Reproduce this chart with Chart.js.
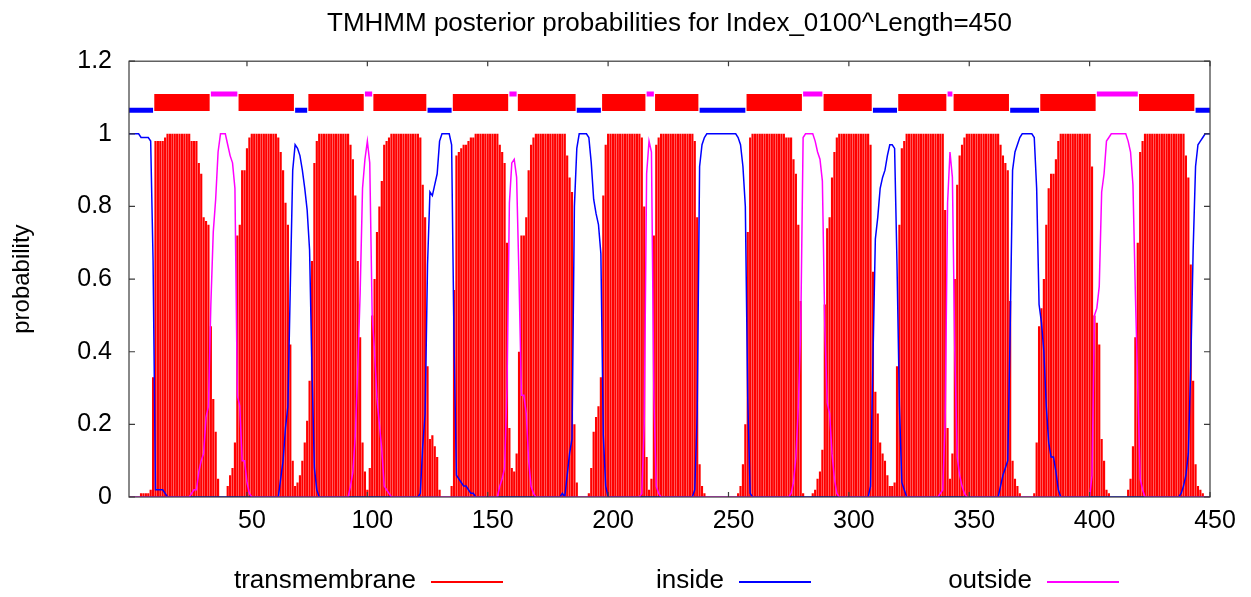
<!DOCTYPE html>
<html>
<head>
<meta charset="utf-8">
<script src="https://cdn.jsdelivr.net/npm/chart.js@4.4.1/dist/chart.umd.min.js"></script>
<style>
  body { margin: 0; background: #fff; }
  #wrap { width: 1251px; height: 597px; }
</style>
</head>
<body>
<div id="wrap"><canvas id="tmhmm"></canvas></div>
<script>
const chartTitle = 'TMHMM posterior probabilities for Index_0100^Length=450';
const seqLength = 450;
const xTicks = [50, 100, 150, 200, 250, 300, 350, 400, 450];
const yTicks = [0, 0.2, 0.4, 0.6, 0.8, 1, 1.2];

// posterior probability per residue (1..450)
const tmProb = [
  0,0,0,0,0,0.01,0.01,0.01,0.01,0.02,
  0.33,0.98,0.98,0.98,0.98,0.99,1,1,1,1,
  1,1,1,1,1,1,0.98,0.98,0.98,0.92,
  0.89,0.77,0.76,0.75,0.47,0.27,0.18,0.05,0,0,
  0,0.03,0.06,0.08,0.15,0.72,0.75,0.9,0.9,0.96,
  0.99,1,1,1,1,1,1,1,1,1,
  1,1,0.99,0.95,0.9,0.81,0.75,0.42,0.1,0.03,
  0.04,0.06,0.1,0.15,0.21,0.32,0.65,0.92,0.98,1,
  1,1,1,1,1,1,1,1,1,1,
  1,1,0.97,0.93,0.83,0.65,0.44,0.15,0.07,0.02,
  0.08,0.5,0.6,0.73,0.8,0.87,0.97,0.98,0.99,1,
  1,1,1,1,1,1,1,1,1,1,
  1,0.99,0.86,0.77,0.36,0.16,0.17,0.14,0.11,0.02,
  0,0,0,0,0.03,0.57,0.94,0.95,0.96,0.97,
  0.97,0.98,0.99,0.99,1,1,1,1,1,1,
  1,1,1,1,0.97,0.95,0.92,0.7,0.19,0.08,
  0.07,0.12,0.4,0.72,0.72,0.77,0.9,0.97,0.99,1,
  1,1,1,1,1,1,1,1,1,1,
  1,1,0.94,0.88,0.84,0.2,0.04,0,0,0,
  0,0.01,0.08,0.18,0.22,0.25,0.33,0.83,0.97,1,
  1,1,1,1,1,1,1,1,1,1,
  1,1,1,0.99,0.8,0.11,0.02,0.05,0.72,0.97,
  0.99,1,1,1,1,1,1,1,1,1,
  1,1,1,1,1,0.98,0.77,0.09,0.03,0.01,
  0,0,0,0,0,0,0,0,0,0,
  0,0,0,0.01,0.03,0.09,0.2,0.73,0.99,1,
  1,1,1,1,1,1,1,1,1,1,
  1,1,1,0.99,0.99,0.99,0.93,0.89,0.75,0.54,
  0.01,0,0,0,0.01,0.02,0.05,0.07,0.13,0.53,
  0.74,0.77,0.88,0.95,0.99,1,1,1,1,1,
  1,1,1,1,1,1,1,1,0.97,0.62,
  0.29,0.23,0.15,0.12,0.1,0.06,0.03,0.03,0.04,0.36,
  0.75,0.96,0.98,1,1,1,1,1,1,1,
  1,1,1,1,1,1,1,1,1,0.79,
  0.19,0.05,0.12,0.6,0.86,0.94,0.97,0.99,1,1,
  1,1,1,1,1,1,1,1,1,1,
  1,1,0.97,0.94,0.92,0.9,0.54,0.1,0.05,0.03,
  0.01,0,0,0,0,0,0.01,0.15,0.47,0.52,
  0.6,0.75,0.85,0.89,0.89,0.93,0.98,1,1,1,
  1,1,1,1,1,1,1,1,1,1,
  0.91,0.5,0.48,0.42,0.16,0.1,0.02,0.01,0,0,
  0,0,0,0,0,0.02,0.05,0.14,0.44,0.7,
  0.95,0.98,1,1,1,1,1,1,1,1,
  1,1,1,1,1,1,1,1,1,0.94,
  0.88,0.64,0.32,0.09,0.03,0.02,0.01,0,0,0
];

const insideProb = [
  1,1,1,1,1,0.99,0.99,0.99,0.99,0.98,
  0.65,0.02,0.02,0.02,0.02,0.01,0,0,0,0,
  0,0,0,0,0,0,0,0,0,0,
  0,0,0,0,0,0,0,0,0,0,
  0,0,0,0,0,0,0,0,0,0,
  0,0,0,0,0,0,0,0,0,0,
  0,0,0,0.05,0.1,0.19,0.25,0.58,0.9,0.97,
  0.96,0.94,0.9,0.85,0.79,0.68,0.35,0.08,0.02,0,
  0,0,0,0,0,0,0,0,0,0,
  0,0,0,0,0,0,0,0,0,0,
  0,0,0,0,0,0,0,0,0,0,
  0,0,0,0,0,0,0,0,0,0,
  0,0.01,0.14,0.23,0.64,0.84,0.83,0.86,0.89,0.98,
  1,1,1,1,0.97,0.43,0.06,0.05,0.04,0.03,
  0.03,0.02,0.01,0.01,0,0,0,0,0,0,
  0,0,0,0,0,0,0,0,0,0,
  0,0,0,0,0,0,0,0,0,0,
  0,0,0,0,0,0,0,0,0,0,
  0.01,0,0.06,0.12,0.16,0.8,0.96,1,1,1,
  1,0.99,0.92,0.82,0.78,0.75,0.67,0.17,0.03,0,
  0,0,0,0,0,0,0,0,0,0,
  0,0,0,0,0,0,0,0,0,0,
  0,0,0,0,0,0,0,0,0,0,
  0,0,0,0,0,0.02,0.23,0.91,0.97,0.99,
  1,1,1,1,1,1,1,1,1,1,
  1,1,1,0.99,0.97,0.91,0.8,0.27,0.01,0,
  0,0,0,0,0,0,0,0,0,0,
  0,0,0,0,0,0,0,0,0,0,
  0,0,0,0,0,0,0,0,0,0,
  0,0,0,0,0,0,0,0,0,0,
  0,0,0,0,0,0,0,0,0.03,0.38,
  0.71,0.77,0.85,0.88,0.9,0.94,0.97,0.97,0.96,0.64,
  0.25,0.04,0.02,0,0,0,0,0,0,0,
  0,0,0,0,0,0,0,0,0,0,
  0,0,0,0,0,0,0,0,0,0,
  0,0,0,0,0,0,0,0,0,0,
  0,0,0.03,0.06,0.08,0.1,0.46,0.9,0.95,0.97,
  0.99,1,1,1,1,1,0.99,0.85,0.53,0.48,
  0.4,0.25,0.15,0.11,0.11,0.07,0.02,0,0,0,
  0,0,0,0,0,0,0,0,0,0,
  0,0,0,0,0,0,0,0,0,0,
  0,0,0,0,0,0,0,0,0,0,
  0,0,0,0,0,0,0,0,0,0,
  0,0,0,0,0,0,0,0.01,0.03,0.06,
  0.12,0.36,0.68,0.91,0.97,0.98,0.99,1,1,1
];

const outsideProb = [
  0,0,0,0,0,0,0,0,0,0,
  0,0,0,0,0,0,0,0,0,0,
  0,0,0,0,0,0,0.01,0.02,0.02,0.07,
  0.1,0.12,0.22,0.25,0.53,0.73,0.82,0.95,1,1,
  1,0.97,0.94,0.92,0.85,0.28,0.25,0.1,0.1,0.04,
  0.01,0,0,0,0,0,0,0,0,0,
  0,0,0,0,0,0,0,0,0,0,
  0,0,0,0,0,0,0,0,0,0,
  0,0,0,0,0,0,0,0,0,0,
  0,0,0.03,0.07,0.17,0.35,0.56,0.85,0.93,0.98,
  0.92,0.5,0.4,0.27,0.2,0.13,0.03,0.02,0.01,0,
  0,0,0,0,0,0,0,0,0,0,
  0,0,0,0,0,0,0,0,0,0,
  0,0,0,0,0,0,0,0,0,0,
  0,0,0,0,0,0,0,0,0,0,
  0,0,0,0,0.03,0.05,0.08,0.3,0.81,0.92,
  0.93,0.88,0.6,0.28,0.28,0.23,0.1,0.03,0.01,0,
  0,0,0,0,0,0,0,0,0,0,
  0,0,0,0,0,0,0,0,0,0,
  0,0,0,0,0,0,0,0,0,0,
  0,0,0,0,0,0,0,0,0,0,
  0,0,0,0.01,0.2,0.89,0.98,0.95,0.28,0.03,
  0.01,0,0,0,0,0,0,0,0,0,
  0,0,0,0,0,0,0,0,0,0,
  0,0,0,0,0,0,0,0,0,0,
  0,0,0,0,0,0,0,0,0,0,
  0,0,0,0,0,0,0,0,0,0,
  0,0,0,0,0,0.01,0.04,0.11,0.25,0.46,
  0.99,1,1,1,1,0.98,0.95,0.93,0.87,0.47,
  0.26,0.23,0.12,0.05,0.01,0,0,0,0,0,
  0,0,0,0,0,0,0,0,0,0,
  0,0,0,0,0,0,0,0,0,0,
  0,0,0,0,0,0,0,0,0,0,
  0,0,0,0,0,0,0,0.01,0.02,0.21,
  0.81,0.95,0.88,0.4,0.11,0.06,0.03,0.01,0,0,
  0,0,0,0,0,0,0,0,0,0,
  0,0,0,0,0,0,0,0,0,0,
  0,0,0,0,0,0,0,0,0,0,
  0,0,0,0,0,0,0,0,0,0,
  0,0,0,0,0,0,0,0,0,0,
  0.06,0.5,0.52,0.58,0.84,0.89,0.98,0.99,1,1,
  1,1,1,1,1,0.98,0.95,0.86,0.56,0.3,
  0.05,0.02,0,0,0,0,0,0,0,0,
  0,0,0,0,0,0,0,0,0,0,
  0,0,0,0,0,0,0,0,0,0
];

// predicted topology (residue ranges)
const insideSegs = [[1,11],[70,75],[125,135],[187,197],[238,257],[310,320],[367,379],[444,450]];
const tmSegs = [[12,34],[47,69],[76,98],[103,124],[136,158],[163,186],[198,215],[220,237],[258,280],[290,309],[321,340],[344,366],[380,402],[421,443]];
const outsideSegs = [[35,46],[99,102],[159,162],[216,219],[281,289],[341,343],[403,420]];

const RED = '#ff0000';
const BLUE = '#0000ff';
const MAGENTA = '#ff00ff';

function toPoints(values) {
  return values.map((v, i) => ({ x: i + 1, y: v }));
}

function segPoints(segs, level, pad) {
  let pts = [];
  segs.forEach(s => {
    pts.push({ x: s[0] - pad, y: level });
    pts.push({ x: s[1] + pad, y: level });
    pts.push({ x: s[1] + pad + 0.01, y: null });
  });
  return pts;
}

// gnuplot style frame with inward ticks, and the key under the plot
const gnuFrame = {
  id: 'gnuFrame',
  afterDatasetsDraw(chart) {
    const ctx = chart.ctx;
    const a = chart.chartArea;
    const x = chart.scales.x;
    const y = chart.scales.y;
    ctx.save();
    ctx.strokeStyle = '#3a3a3a';
    ctx.lineWidth = 1.2;
    ctx.strokeRect(a.left, a.top, a.right - a.left, a.bottom - a.top);
    ctx.beginPath();
    xTicks.forEach(v => {
      let px = x.getPixelForValue(v);
      ctx.moveTo(px, a.bottom); ctx.lineTo(px, a.bottom - 5);
      ctx.moveTo(px, a.top); ctx.lineTo(px, a.top + 5);
    });
    yTicks.forEach(v => {
      let py = y.getPixelForValue(v);
      ctx.moveTo(a.left, py); ctx.lineTo(a.left + 6, py);
      ctx.moveTo(a.right, py); ctx.lineTo(a.right - 6, py);
    });
    ctx.stroke();
    ctx.restore();
  },
  afterDraw(chart) {
    const ctx = chart.ctx;
    const items = chart.data.datasets.filter(d => d.inKey);
    ctx.save();
    ctx.font = '26px "Liberation Sans", Arial, sans-serif';
    ctx.fillStyle = '#000';
    ctx.textAlign = 'right';
    ctx.textBaseline = 'middle';
    items.forEach((d, i) => {
      let right = 416 + 308 * i;
      ctx.fillText(d.label, right, 581);
      ctx.strokeStyle = d.borderColor || d.backgroundColor;
      ctx.lineWidth = 2;
      ctx.beginPath();
      ctx.moveTo(right + 15, 582);
      ctx.lineTo(right + 87, 582);
      ctx.stroke();
    });
    ctx.restore();
  }
};

Chart.defaults.font.family = '"Liberation Sans", Arial, sans-serif';
Chart.defaults.color = '#000';

let tmChart = new Chart(document.getElementById('tmhmm'), {
  type: 'line',
  data: {
    datasets: [
      {
        type: 'bar',
        label: 'transmembrane',
        inKey: true,
        data: toPoints(tmProb),
        backgroundColor: RED,
        borderColor: RED,
        borderWidth: 0,
        barPercentage: 0.9,
        categoryPercentage: 1,
        grouped: false,
        order: 3
      },
      {
        label: 'inside',
        inKey: true,
        data: toPoints(insideProb),
        borderColor: BLUE,
        borderWidth: 1.5,
        pointRadius: 0,
        order: 1
      },
      {
        label: 'outside',
        inKey: true,
        data: toPoints(outsideProb),
        borderColor: MAGENTA,
        borderWidth: 1.5,
        pointRadius: 0,
        order: 0
      },
      {
        label: 'outside topology',
        data: segPoints(outsideSegs, 1.11, 0),
        borderColor: MAGENTA,
        borderWidth: 5,
        borderCapStyle: 'butt',
        pointRadius: 0,
        order: 2
      },
      {
        label: 'inside topology',
        data: segPoints(insideSegs, 1.065, 0),
        borderColor: BLUE,
        borderWidth: 5,
        borderCapStyle: 'butt',
        pointRadius: 0,
        order: 2
      },
      {
        label: 'tm topology',
        data: segPoints(tmSegs, 1.0865, 0.5),
        borderColor: RED,
        borderWidth: 17,
        borderCapStyle: 'butt',
        pointRadius: 0,
        order: 2
      }
    ]
  },
  options: {
    responsive: true,
    maintainAspectRatio: false,
    animation: false,
    layout: { padding: { left: 0, right: 41, top: 0, bottom: 50 } },
    plugins: {
      legend: { display: false },
      tooltip: { enabled: false },
      title: {
        display: true,
        fullSize: false,
        text: chartTitle,
        font: { size: 26, weight: 'normal' },
        padding: { top: 8, bottom: 22 }
      }
    },
    scales: {
      x: {
        type: 'linear',
        min: 1,
        max: seqLength,
        offset: false,
        afterBuildTicks: s => { s.ticks = xTicks.map(v => ({ value: v })); },
        afterFit: s => { s.height = 50; },
        grid: { display: false, drawTicks: false },
        border: { display: false },
        ticks: {
          autoSkip: false,
          maxRotation: 0,
          padding: 9,
          labelOffset: 5,
          font: { size: 25 },
          callback: v => String(v)
        }
      },
      y: {
        min: 0,
        max: 1.2,
        afterBuildTicks: s => { s.ticks = yTicks.map(v => ({ value: v })); },
        afterFit: s => { s.width = 129; },
        grid: { display: false, drawTicks: false },
        border: { display: false },
        ticks: {
          padding: 17,
          font: { size: 25 },
          callback: v => String(v)
        },
        title: {
          display: true,
          text: 'probability',
          font: { size: 24 },
          padding: { top: 8, bottom: 0 }
        }
      }
    }
  },
  plugins: [gnuFrame]
});
</script>
</body>
</html>
